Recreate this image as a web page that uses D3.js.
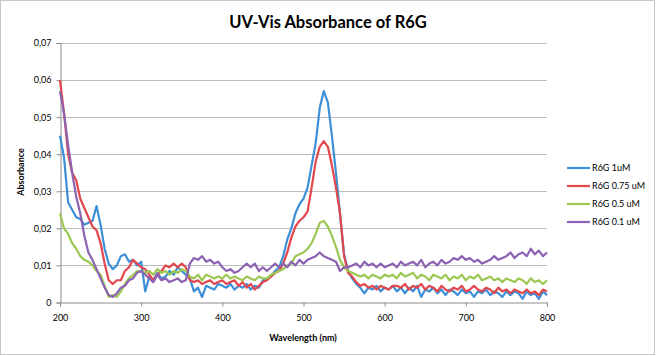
<!DOCTYPE html>
<html><head><meta charset="utf-8">
<script src="https://cdn.jsdelivr.net/npm/d3@7"></script>
<style>body{margin:0;background:#fff}svg{display:block}text{font-family:Lato,"Open Sans",sans-serif;fill:#000}</style>
</head><body>
<svg id="c" width="656" height="356"></svg>
<script>
const wavelengths = d3.range(200, 801, 5);
const seriesNames = ["R6G 1uM", "R6G 0.75 uM", "R6G 0.5 uM", "R6G 0.1 uM"];
const seriesColors = ["#3d8fd7", "#e2474c", "#9cc752", "#8c62b2"];
const yTicks = [0, 0.01, 0.02, 0.03, 0.04, 0.05, 0.06, 0.07];
const xTicks = [200, 300, 400, 500, 600, 700, 800];

const blue = [0.045,0.039,0.027,0.025,0.023,0.0225,0.021,0.0215,0.022,0.026,0.021,0.0145,0.0105,0.009,0.010,0.0125,0.013,0.011,0.0115,0.010,
0.011,0.003,0.007,0.006,0.008,0.0065,0.007,0.0085,0.0075,0.0095,0.0085,0.0075,0.0065,0.003,0.004,0.0015,0.0045,0.004,0.0035,0.005,
0.0045,0.004,0.005,0.0035,0.0045,0.004,0.005,0.0035,0.0045,0.004,0.006,0.0065,0.007,0.0085,0.0095,0.0125,0.017,0.020,0.024,0.0265,
0.028,0.031,0.037,0.043,0.0525,0.057,0.054,0.045,0.035,0.024,0.013,0.0085,0.0065,0.005,0.004,0.0025,0.004,0.0035,0.0045,0.003,
0.004,0.0035,0.0045,0.003,0.004,0.0025,0.004,0.003,0.0045,0.0015,0.0035,0.003,0.004,0.0025,0.0035,0.002,0.0035,0.003,0.002,0.0035,
0.0025,0.003,0.0015,0.003,0.0025,0.0035,0.002,0.003,0.0025,0.0015,0.003,0.002,0.003,0.0025,0.001,0.003,0.002,0.0025,0.001,0.003,0.002];

const red = [0.060,0.051,0.040,0.035,0.033,0.028,0.0255,0.023,0.0205,0.0195,0.016,0.0105,0.006,0.005,0.006,0.006,0.0085,0.0095,0.0115,0.0105,
0.0095,0.009,0.0075,0.006,0.0075,0.0085,0.010,0.0095,0.0105,0.0095,0.0105,0.0095,0.006,0.0055,0.006,0.005,0.0055,0.006,0.005,0.0055,
0.006,0.005,0.0055,0.006,0.0045,0.0055,0.004,0.005,0.0035,0.0045,0.0055,0.006,0.007,0.008,0.0085,0.0105,0.0135,0.0175,0.0205,0.022,
0.023,0.0245,0.031,0.038,0.042,0.0435,0.042,0.037,0.031,0.024,0.0125,0.008,0.007,0.0055,0.0045,0.005,0.004,0.0045,0.0035,0.0045,
0.004,0.0035,0.0045,0.0045,0.004,0.005,0.0035,0.0045,0.004,0.005,0.0035,0.0045,0.004,0.003,0.0045,0.0035,0.003,0.004,0.0035,0.0045,
0.003,0.0035,0.0045,0.0035,0.003,0.004,0.0035,0.0025,0.004,0.003,0.0035,0.0025,0.0035,0.003,0.0025,0.0035,0.0025,0.003,0.002,0.0035,0.003];

const green = [0.024,0.020,0.0185,0.016,0.0145,0.0125,0.0115,0.011,0.010,0.0085,0.0075,0.0045,0.0015,0.002,0.0015,0.003,0.005,0.0065,0.0075,0.0085,
0.0085,0.008,0.0085,0.0075,0.009,0.008,0.0085,0.0075,0.0085,0.008,0.009,0.0085,0.007,0.0065,0.0075,0.006,0.0075,0.007,0.0065,0.007,
0.0065,0.0075,0.0065,0.007,0.0065,0.006,0.007,0.0065,0.006,0.007,0.0065,0.0065,0.0075,0.008,0.0085,0.009,0.010,0.0105,0.0125,0.013,
0.0135,0.0145,0.016,0.0185,0.0215,0.022,0.0205,0.018,0.015,0.0115,0.0095,0.0085,0.008,0.0075,0.007,0.0075,0.0065,0.0075,0.007,0.0065,
0.0075,0.007,0.0075,0.0065,0.008,0.007,0.0075,0.008,0.0065,0.0075,0.007,0.006,0.0075,0.007,0.0065,0.0075,0.006,0.007,0.0065,0.0075,
0.006,0.007,0.0065,0.0075,0.006,0.0065,0.007,0.006,0.0065,0.0055,0.0065,0.006,0.0055,0.0065,0.006,0.005,0.0065,0.0055,0.006,0.005,0.006];

const purple = [0.057,0.051,0.0425,0.035,0.0285,0.024,0.018,0.0135,0.0115,0.009,0.0065,0.004,0.002,0.0015,0.0025,0.004,0.0045,0.006,0.0065,0.008,
0.0085,0.0075,0.0065,0.0055,0.0075,0.006,0.0065,0.0055,0.006,0.0065,0.0055,0.006,0.0105,0.012,0.0115,0.0125,0.011,0.0115,0.0105,0.011,
0.0095,0.0085,0.009,0.008,0.0085,0.0095,0.0105,0.0095,0.0105,0.0085,0.0095,0.0085,0.0095,0.0105,0.0095,0.0105,0.0095,0.011,0.010,0.0115,
0.0105,0.0115,0.012,0.0125,0.0135,0.0125,0.012,0.0115,0.011,0.0085,0.0095,0.0095,0.010,0.0105,0.0095,0.011,0.010,0.0105,0.0095,0.0105,
0.0095,0.010,0.0105,0.0095,0.011,0.010,0.0105,0.011,0.010,0.0115,0.0095,0.0105,0.011,0.010,0.0115,0.0105,0.011,0.012,0.0115,0.0125,
0.0115,0.012,0.011,0.0115,0.0105,0.011,0.0115,0.0125,0.0115,0.012,0.0125,0.0135,0.012,0.013,0.0135,0.0125,0.0145,0.013,0.014,0.0125,0.0135];

const seriesValues = [blue, red, green, purple];

const svg = d3.select("#c");
svg.append("rect").attr("x",0.5).attr("y",0.5).attr("width",654).attr("height",354)
  .attr("fill","#fff").attr("stroke","#c8c8c8");

const x = d3.scaleLinear().domain([200, 800]).range([60, 547]);
const y = d3.scaleLinear().domain([0, 0.07]).range([302.5, 43]);
const fmt = v => v === 0 ? "0" : d3.format(".2f")(v).replace(".", ",");

// gridlines
svg.append("g").selectAll("line").data(yTicks.filter(t => t > 0)).join("line")
  .attr("x1", 60).attr("x2", 547)
  .attr("y1", d => Math.round(y(d)) + 0.5).attr("y2", d => Math.round(y(d)) + 0.5)
  .attr("stroke", "#bdbdbd").attr("stroke-width", 1);

// y axis
const yAxis = svg.append("g").attr("transform", "translate(60.5,0)")
  .call(d3.axisLeft(y).tickValues(yTicks).tickFormat(fmt).tickSize(4).tickPadding(5));
yAxis.select(".domain").attr("stroke", "#8c8c8c");
yAxis.selectAll(".tick line").attr("stroke", "#8c8c8c");
yAxis.selectAll(".tick text").attr("font-size", 9).attr("font-family", "Lato, sans-serif").attr("fill", "#000");

// x axis
const xAxis = svg.append("g").attr("transform", "translate(0,302.5)")
  .call(d3.axisBottom(x).tickValues(xTicks).tickFormat(d3.format("d")).tickSize(4).tickPadding(8));
xAxis.select(".domain").attr("stroke", "#8c8c8c");
xAxis.selectAll(".tick line").attr("stroke", "#8c8c8c");
xAxis.selectAll(".tick text").attr("font-size", 9).attr("font-family", "Lato, sans-serif").attr("fill", "#000");

// lines
const line = d3.line().x((d, i) => x(wavelengths[i])).y(d => y(d));
svg.append("g").selectAll("path").data(seriesValues).join("path")
  .attr("d", d => line(d)).attr("fill", "none")
  .attr("stroke", (d, i) => seriesColors[i]).attr("stroke-width", 2.2)
  .attr("stroke-linejoin", "round");

// title
svg.append("text").attr("x", 328).attr("y", 28).attr("text-anchor", "middle")
  .attr("font-size", 16.5).attr("font-weight", "bold").text("UV-Vis Absorbance of R6G");

// axis titles
svg.append("text").attr("x", 303).attr("y", 341).attr("text-anchor", "middle")
  .attr("font-size", 9).attr("font-weight", "bold").text("Wavelength (nm)");
svg.append("text").attr("transform", "translate(24,172) rotate(-90)").attr("text-anchor", "middle")
  .attr("font-size", 9).attr("font-weight", "bold").text("Absorbance");

// legend
const leg = svg.append("g").selectAll("g").data(seriesNames).join("g")
  .attr("transform", (d, i) => `translate(567,${168 + i * 18})`);
leg.append("line").attr("x1", 0).attr("x2", 23).attr("y1", 0).attr("y2", 0)
  .attr("stroke", (d, i) => seriesColors[i]).attr("stroke-width", 2.2);
leg.append("text").attr("x", 25).attr("y", 3.2).attr("font-size", 9).text(d => d);
</script>
</body></html>
